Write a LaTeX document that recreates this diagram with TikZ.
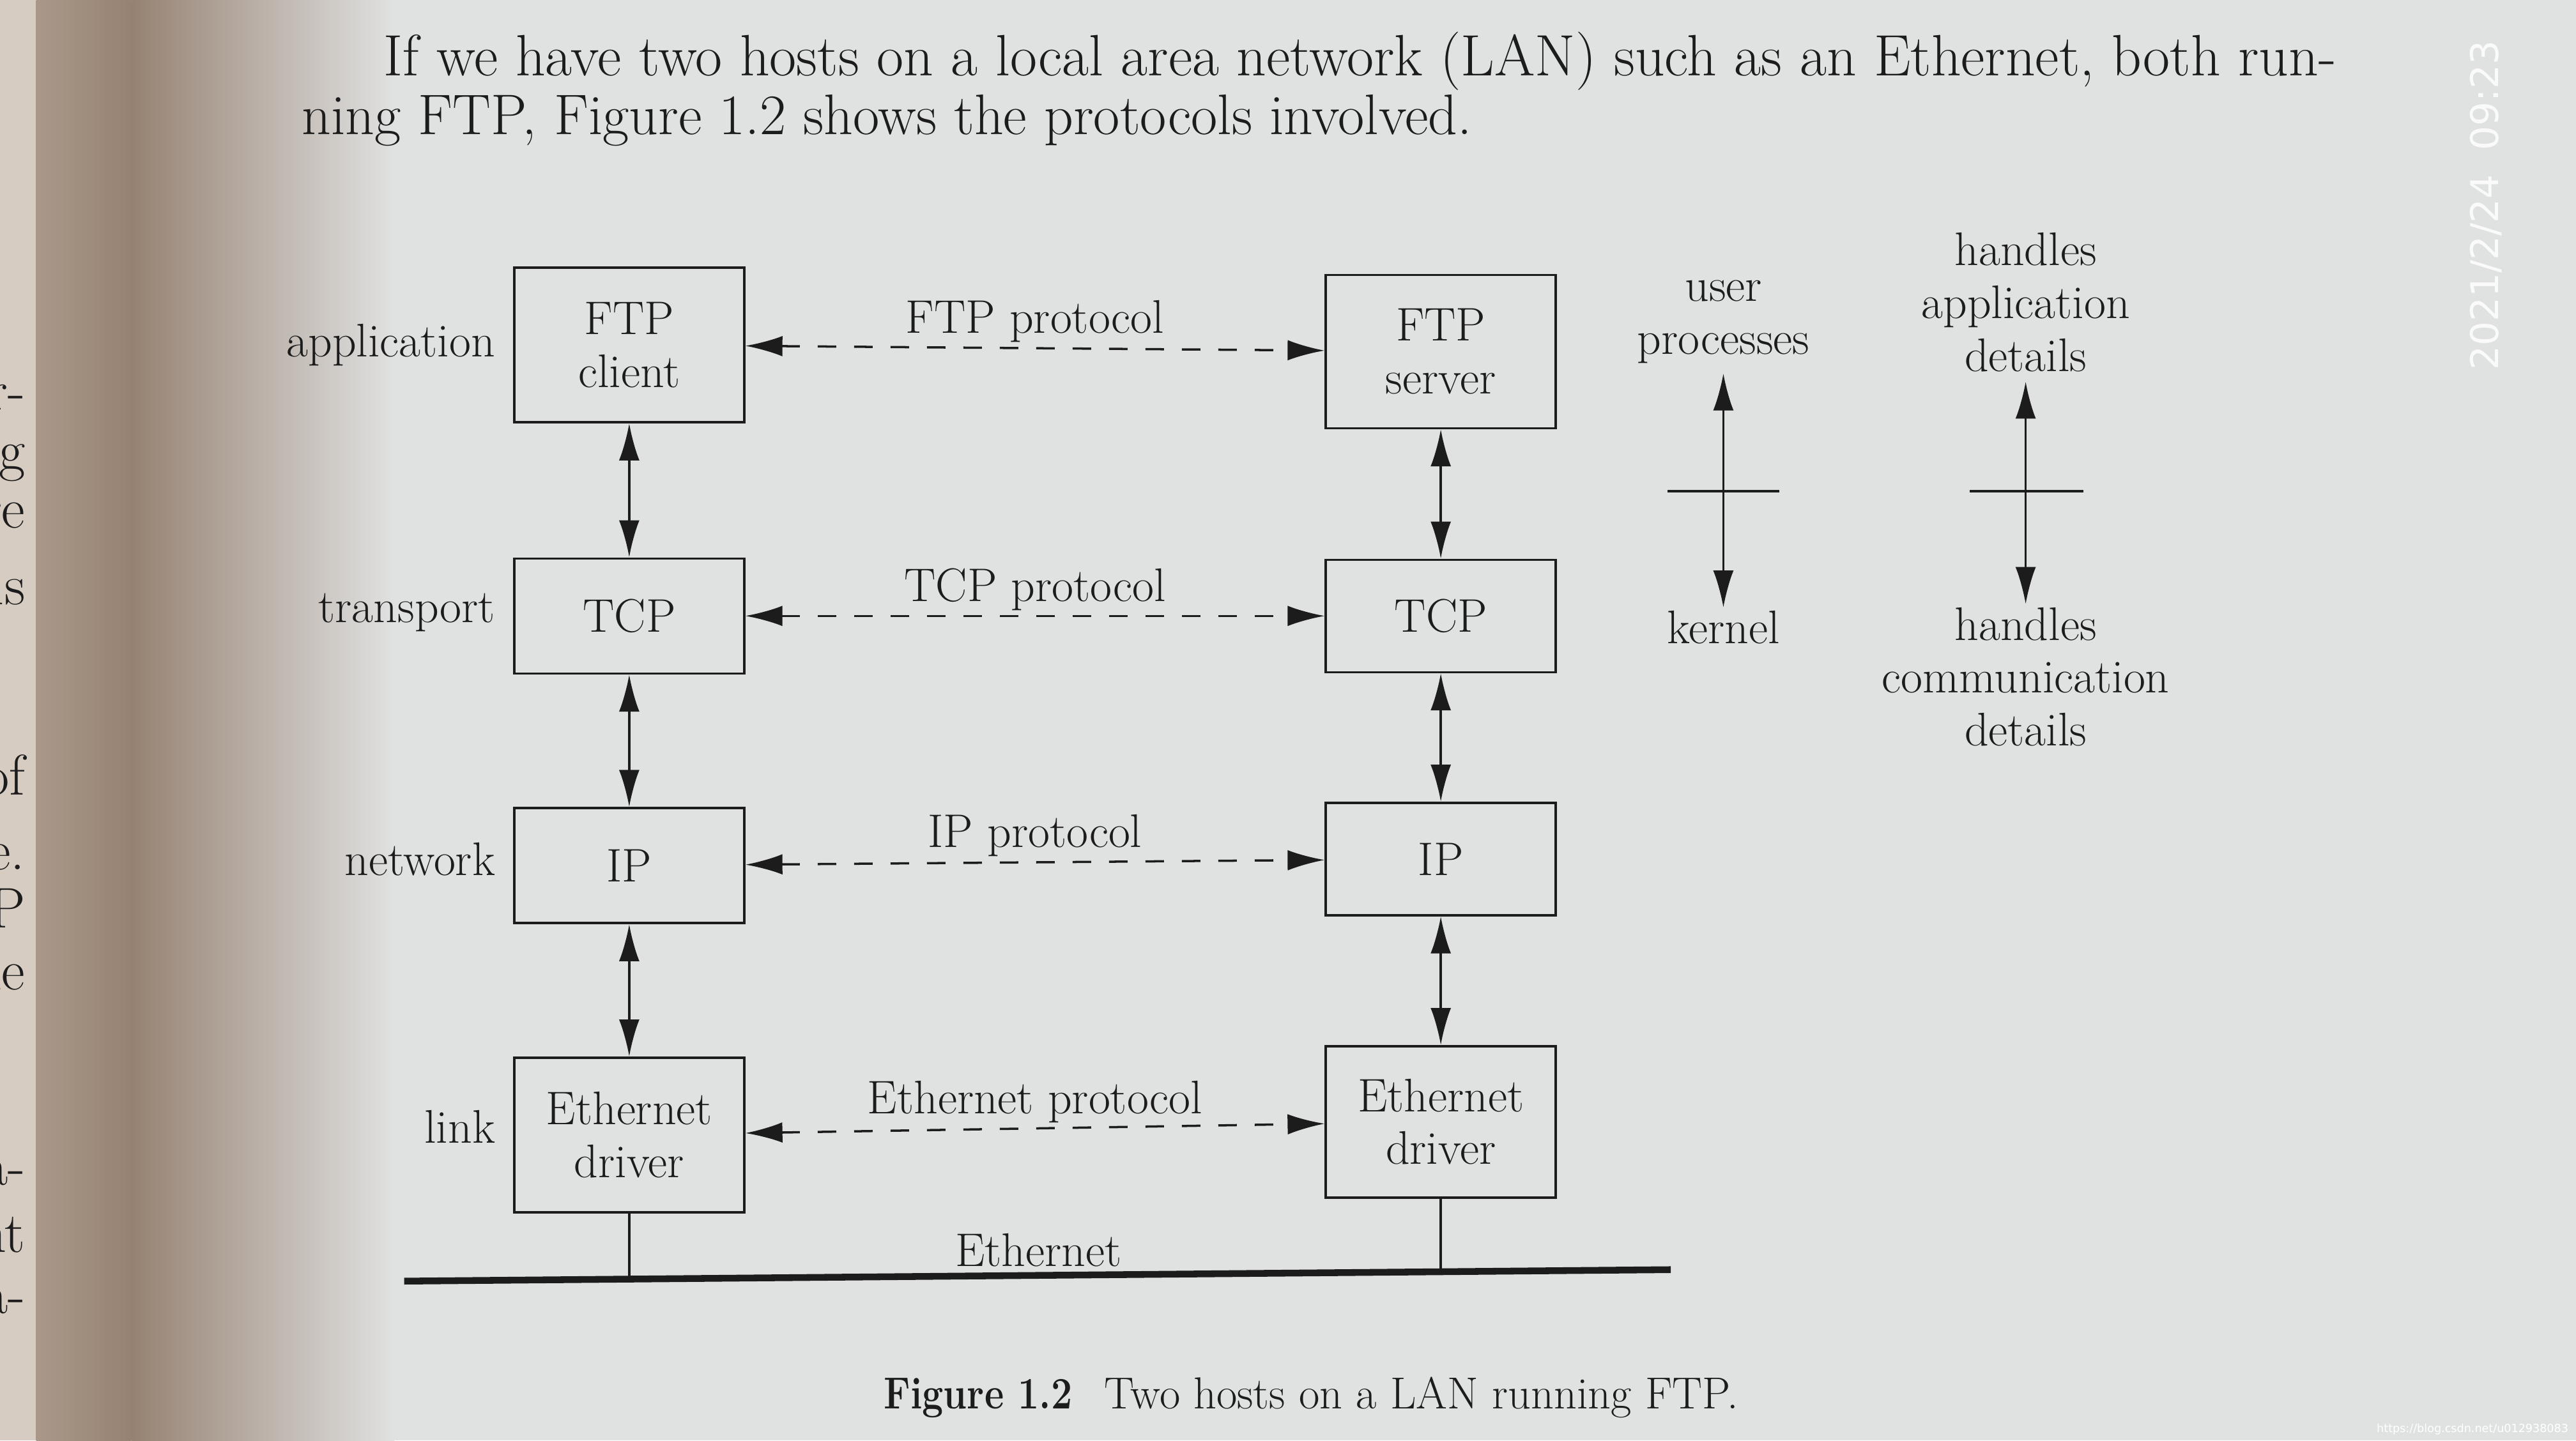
\documentclass[tikz,border=0pt]{standalone}
\usepackage{fontspec}
\usepackage{graphicx}
\usetikzlibrary{arrows.meta}
\newfontfamily\marksf{DejaVu Sans}
\definecolor{page}{RGB}{224,225,225}
\definecolor{gutter}{RGB}{150,130,114}
\definecolor{strip}{RGB}{214,204,194}
\definecolor{ink}{RGB}{28,28,28}
\newcommand\dtext{\fontsize{21}{23.5}\selectfont}
\newcommand\ptext{\fontsize{25.5}{30}\selectfont}

\begin{document}
\begin{tikzpicture}[x=0.025714cm, y=-0.025714cm, ink, line width=1pt,
  >={Latex[length=0.58cm, width=0.32cm]},
  layer/.style={draw, minimum width=3.6cm, inner sep=0pt, align=center, font=\dtext},
  lbl/.style={inner sep=0pt, align=center, font=\dtext},
  proto/.style={<->, dash pattern=on 0.29cm off 0.28cm}]
\useasboundingbox (0,0) rectangle (1568,877);
\fill[page] (0,0) rectangle (1568,877);
\fill[strip] (0,0) rectangle (22,877);
\shade[left color=gutter!70!strip, right color=gutter] (22,0) rectangle (80,877);
\shade[left color=gutter, right color=page] (80,0) rectangle (240,877);

\node[anchor=base west, inner sep=0pt, font=\fontsize{26}{30}\selectfont] (l1) at (233,46) {If we have two hosts on a local area network (LAN) such as an Ethernet, both run-};
\node[anchor=base west, inner sep=0pt, font=\ptext] (l2) at (183,82) {ning FTP, Figure 1.2 shows the protocols involved.};

\node[layer, minimum height=2.42cm] (c1) at (383,210) {FTP\\client};
\node[layer, minimum height=1.8cm] (c2) at (383,375) {TCP};
\node[layer, minimum height=1.8cm] (c3) at (383,527) {IP};
\node[layer, minimum height=2.42cm] (c4) at (383,691) {Ethernet\\driver};

\node[layer, minimum height=2.4cm] (s1) at (877,214) {FTP\\server};
\node[layer, minimum height=1.76cm] (s2) at (877,375) {TCP};
\node[layer, minimum height=1.76cm] (s3) at (877,523) {IP};
\node[layer, minimum height=2.37cm] (s4) at (877,683) {Ethernet\\driver};

\draw[<->] (c1) -- (c2);
\draw[<->] (c2) -- (c3);
\draw[<->] (c3) -- (c4);
\draw[<->] (s1) -- (s2);
\draw[<->] (s2) -- (s3);
\draw[<->] (s3) -- (s4);

\draw[proto] (c1) -- (s1) node[midway, above, lbl, inner sep=2pt] (p1) {FTP protocol};
\draw[proto] (c2) -- (s2) node[midway, above, lbl, inner sep=2pt] (p2) {TCP protocol};
\draw[proto] (c3) -- (s3) node[midway, above, lbl, inner sep=2pt] (p3) {IP protocol};
\draw[proto] (c4) -- (s4) node[midway, above, lbl, inner sep=2pt] (p4) {Ethernet protocol};

\node[lbl, anchor=east] (n1) at (302,210) {application};
\node[lbl, anchor=east] (n2) at (302,373) {transport};
\node[lbl, anchor=east] (n3) at (302,523) {network};
\node[lbl, anchor=east] (n4) at (302,686) {link};

\coordinate (b1) at (246,780);
\coordinate (b2) at (1017,773);
\draw[line width=3pt] (b1) -- (b2);
\draw (c4) -- (c4 |- b1);
\draw (s4) -- (s4 |- b2);
\node[lbl] (eth) at (632,761) {Ethernet};

\node[lbl] (u1) at (1049,196) {user\\processes};
\node[lbl] (u2) at (1049,382) {kernel};
\draw[<->, shorten <=4pt, shorten >=1pt] (u1) -- (u2);
\coordinate (t1) at (1015,299);
\coordinate (t2) at (1083,299);
\draw (t1) -- (t2);

\node[lbl] (h1) at (1233,184) {handles\\application\\details};
\node[lbl] (h2) at (1233,412) {handles\\communication\\details};
\draw[<->, shorten <=4pt, shorten >=1pt] (h1) -- (h2);
\coordinate (t3) at (1199,299);
\coordinate (t4) at (1268,299);
\draw (t3) -- (t4);

\node[inner sep=0pt, font=\fontsize{20}{24}\selectfont] (cap) at (798,851) {\scalebox{0.84}[1]{\textbf{Figure 1.2}}\hspace{0.5cm}Two hosts on a LAN running FTP.};

% facing page and photo marks
\foreach \t/\y [count=\i] in {or-/242, ng/282, re/314, is/357, of/472, e./522, IP/553, ne/595, a-/714, nt/752, a-/792}
  \node[anchor=east, inner sep=0pt, font=\ptext] (f\i) at (16,\y) {\t};
\node[rotate=90, text=white, opacity=0.85, inner sep=0pt, font=\marksf\fontsize{17}{20}\selectfont] (wm) at (1513,125) {2021/2/24\ \ 09:23};
\node[anchor=east, text=white, inner sep=0pt, font=\marksf\fontsize{5}{6}\selectfont] (url) at (1564,870) {https://blog.csdn.net/u012938083};
\end{tikzpicture}
\end{document}
